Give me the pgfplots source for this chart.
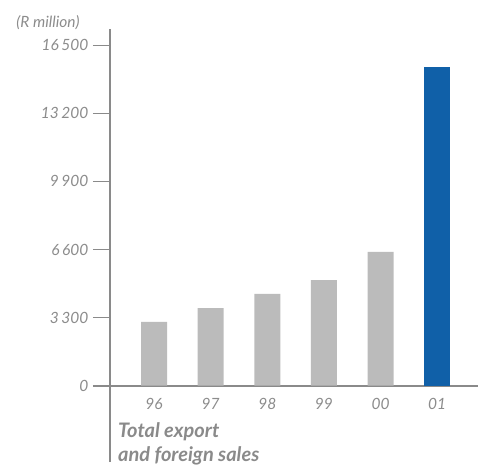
\documentclass[border=0pt]{standalone}
\usepackage{pgfplots}
\pgfplotsset{compat=1.18}
\usepackage{fontspec}
\setmainfont{Lato}
\definecolor{axgray}{HTML}{8A8A8A}
\definecolor{txtgray}{HTML}{8C8C8C}
\definecolor{bargray}{HTML}{BBBBBB}
\definecolor{barblue}{HTML}{1060A8}
\begin{document}
\begin{tikzpicture}[x=1pt,y=1pt]
\path[use as bounding box] (-110,-4) rectangle (368,462);
\begin{axis}[
  at={(0,0)}, anchor=south west,
  scale only axis,
  width=368pt, height=433pt,
  xmin=-0.777, xmax=5.72,
  ymin=-3697, ymax=17285,
  scaled y ticks=false,
  axis x line*=middle,
  axis y line*=left,
  axis line style={draw=axgray, line width=2pt},
  hide obscured x ticks=false,
  hide obscured y ticks=false,
  xtick={0,1,2,3,4,5},
  xticklabels={96,97,98,99,00,01},
  xtick style={draw=none},
  ytick={0,3300,6600,9900,13200,16500},
  yticklabels={0,3\,300,6\,600,9\,900,13\,200,16\,500},
  ytick style={draw=axgray, line width=1pt},
  tick align=outside,
  major tick length=17pt,
  tick label style={font=\fontsize{15.5}{18}\selectfont\itshape, text=txtgray},
  xticklabel style={yshift=8pt},
  yticklabel style={xshift=-1pt},
  /pgf/number format/assume math mode=true,
  clip=false,
]
\addplot[ybar, bar width=26pt, fill=bargray, draw=none] coordinates {
  (0,3090) (1,3765) (2,4445) (3,5120) (4,6480)
};
\addplot[ybar, bar width=26pt, fill=barblue, draw=none] coordinates {
  (5,15440)
};
\draw[axgray, line width=2pt] (axis cs:-0.777,0) -- ([xshift=-17pt]axis cs:-0.777,0);
\end{axis}
\node[anchor=center, text=txtgray, font=\fontsize{15.5}{18}\selectfont\itshape] at (-62,439) {(R million)};
\node[anchor=north west, align=left, inner sep=0pt, text=axgray, font=\fontsize{20}{24}\selectfont\bfseries\itshape] at (8,40) {Total export\\and foreign sales};
\end{tikzpicture}
\end{document}
